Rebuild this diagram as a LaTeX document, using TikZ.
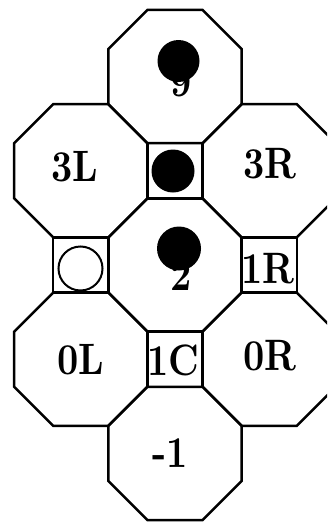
\documentclass[tikz,border=0pt]{standalone}
\usepackage{fontspec}
\newfontfamily\labfont{lmroman10-bold.otf}[FakeStretch=0.84]
\usetikzlibrary{shapes.geometric}
\begin{document}
\begin{tikzpicture}[x=1pt,y=-1pt,
  oct/.style={draw,line width=2.5pt,regular polygon,regular polygon sides=8,minimum size=144.2pt,inner sep=0pt},
  sq/.style={draw,line width=2.5pt,rectangle,minimum size=55.2pt,inner sep=0pt},
  lab/.style={inner sep=0pt,font=\labfont\fontsize{44}{46}\selectfont},
  dig/.style={inner sep=0pt,anchor=base,font=\labfont\fontsize{44}{46}\selectfont},
  ball/.style={circle,fill=black,inner sep=0pt},
  ring/.style={circle,draw,line width=2pt,inner sep=0pt}]
\useasboundingbox (0,0) rectangle (327,522);
\clip (0,0) rectangle (327,522);
% octagons
\node[oct] (o9)  at (175,76.6) {};
\node[oct] (o3L) at (80.8,170.8) {};
\node[oct] (o3R) at (269.2,170.8) {};
\node[oct] (o2)  at (175,265) {};
\node[oct] (o0L) at (80.8,359.2) {};
\node[oct] (o0R) at (269.2,359.2) {};
\node[oct] (om1) at (175,453.4) {};
% squares
\node[sq] (sT) at (175,170.8) {};
\node[sq] (sL) at (80.8,265) {};
\node[sq] (sR) at (269.2,265) {};
\node[sq] (sC) at (175,359.2) {};
% labels
\node[lab] (t3L) at (75,167) {3L};
\node[lab] (t3R) at (270,164) {3R};
\node[lab] (t0L) at (81,360) {0L};
\node[lab] (t0R) at (270,356) {0R};
\node[lab] (t1R) at (268,269) {1R};
\node[lab] (t1C) at (173,360) {1C};
\node[lab] (tm1) at (170,453) {-1};
\node[dig] (t9) at (181,96) {9};
\node[dig] (t2) at (181,290) {2};
% balls
\node[ball,minimum size=42pt] (b9) at (178.5,61) {};
\node[ball,minimum size=43pt] (bT) at (173,171) {};
\node[ball,minimum size=44pt] (b2) at (179,248.5) {};
\node[ring,minimum size=44pt] (rL) at (80.5,268.5) {};
\end{tikzpicture}
\end{document}
